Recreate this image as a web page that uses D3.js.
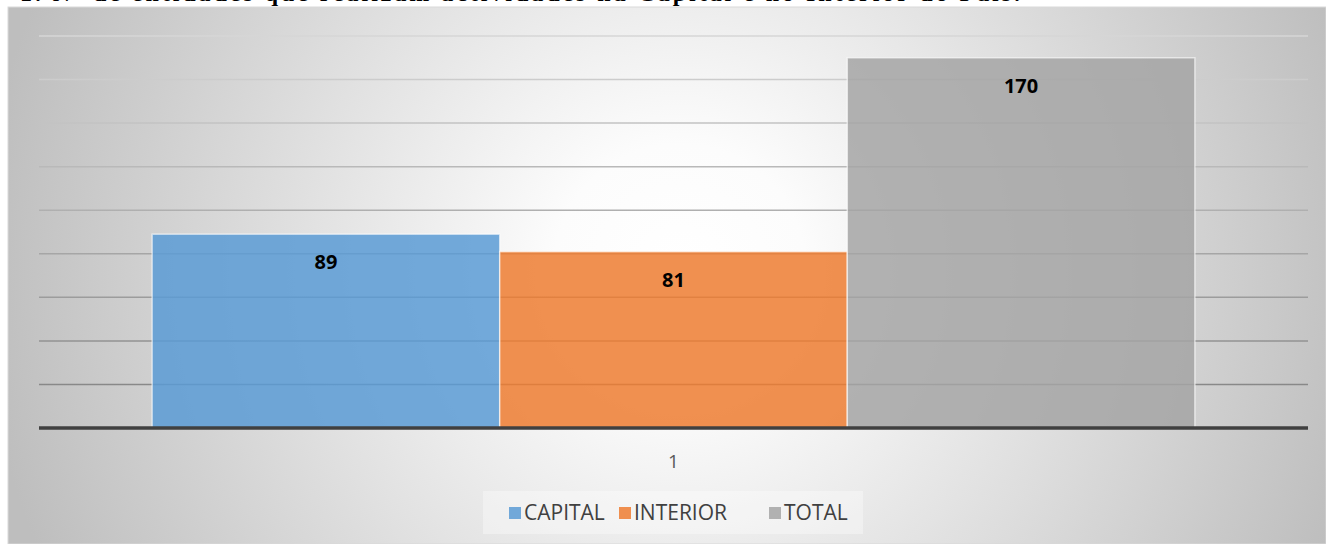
<!DOCTYPE html>
<html>
<head>
<meta charset="utf-8">
<script src="https://cdn.jsdelivr.net/npm/d3@7"></script>
<style>
	body { margin: 0; background: #ffffff; }
	svg { display: block; }
</style>
</head>
<body>
<div id="chart"></div>
<script>
// dados do gráfico
var categories = ["1"];
var series = ["CAPITAL", "INTERIOR", "TOTAL"];
var values = [89, 81, 170];
var yTicks = [0, 20, 40, 60, 80, 100, 120, 140, 160, 180];
var colors = ["#5B9BD5", "#ED7D31", "#A5A5A5"];
var titleText = "1.   Nº de entidades que realizam actividades na Capital e no Interior do País.";

drawchart()

function drawchart() {
	var W = 1326, H = 544;
	var box = { left: 8, top: 7, right: 1326, bottom: 544 };
	var plot = { left: 39, right: 1308, top: 36, bottom: 428 };

	var svg = d3.select("#chart")
		.append("svg")
		.attr("width", W)
		.attr("height", H);

	var defs = svg.append("defs");
	var bg = defs.append("radialGradient")
		.attr("id", "bggrad")
		.attr("gradientUnits", "userSpaceOnUse")
		.attr("cx", 680).attr("cy", 270).attr("r", 700);
	bg.append("stop").attr("offset", "0").attr("stop-color", "#ffffff");
	bg.append("stop").attr("offset", "0.18").attr("stop-color", "#fcfcfc");
	bg.append("stop").attr("offset", "1").attr("stop-color", "#bebebe");

	var gridgrad = defs.append("linearGradient")
		.attr("id", "gridgrad")
		.attr("gradientUnits", "userSpaceOnUse")
		.attr("x1", 0).attr("y1", plot.top).attr("x2", 0).attr("y2", plot.bottom);
	gridgrad.append("stop").attr("offset", "0").attr("stop-color", "#d6d6d6");
	gridgrad.append("stop").attr("offset", "1").attr("stop-color", "#7f7f7f");

	// título (cortado no topo, como na imagem)
	svg.append("text")
		.attr("x", 20)
		.attr("y", 1)
		.attr("textLength", 1000)
		.attr("lengthAdjust", "spacing")
		.style("font-family", "'Liberation Serif', 'Times New Roman', serif")
		.style("font-weight", "bold")
		.style("font-size", "24px")
		.style("fill", "#000")
		.text(titleText);

	// área do gráfico
	svg.append("rect")
		.attr("x", box.left)
		.attr("y", box.top)
		.attr("width", box.right - box.left)
		.attr("height", box.bottom - box.top)
		.style("fill", "url(#bggrad)")
		.style("stroke", "#d9d9d9")
		.style("stroke-width", 1);

	var y = d3.scaleLinear()
		.domain([0, d3.max(yTicks)])
		.range([plot.bottom, plot.top]);

	var x0 = d3.scaleBand()
		.domain(categories)
		.range([plot.left, plot.right])
		.paddingInner(0)
		.paddingOuter(0.1085);

	var x1 = d3.scaleBand()
		.domain(series)
		.range([0, x0.bandwidth()])
		.padding(0);

	// linhas de grelha
	svg.append("g")
		.selectAll("line")
		.data(yTicks.filter(d => d > 0))
		.join("line")
		.attr("x1", plot.left)
		.attr("x2", plot.right)
		.attr("y1", d => y(d))
		.attr("y2", d => y(d))
		.style("stroke", "url(#gridgrad)")
		.style("stroke-width", 1.5);

	// barras
	var groups = svg.append("g")
		.selectAll("g")
		.data(categories)
		.join("g")
		.attr("transform", d => `translate(${x0(d)},0)`);

	groups.selectAll("rect")
		.data(series.map((s, i) => ({ s: s, v: values[i], c: colors[i] })))
		.join("rect")
		.attr("x", d => x1(d.s))
		.attr("y", d => y(d.v))
		.attr("width", x1.bandwidth())
		.attr("height", d => y(0) - y(d.v))
		.style("fill", d => d.c)
		.style("fill-opacity", 0.85)
		.style("stroke", "#ffffff")
		.style("stroke-opacity", 0.6)
		.style("stroke-width", 1.5);

	groups.selectAll(".lbl")
		.data(series.map((s, i) => ({ s: s, v: values[i] })))
		.join("text")
		.attr("class", "lbl")
		.attr("x", d => x1(d.s) + x1.bandwidth() / 2)
		.attr("y", d => y(d.v) + 28)
		.attr("dy", "0.35em")
		.style("text-anchor", "middle")
		.style("font-family", "'Open Sans', 'Noto Sans', sans-serif")
		.style("font-weight", "bold")
		.style("font-size", "20px")
		.style("fill", "#000")
		.text(d => d.v);

	// eixo horizontal
	svg.append("line")
		.attr("x1", plot.left)
		.attr("x2", plot.right)
		.attr("y1", y(0))
		.attr("y2", y(0))
		.style("stroke", "#404040")
		.style("stroke-width", 3.5);

	svg.append("g")
		.selectAll("text")
		.data(categories)
		.join("text")
		.attr("x", d => x0(d) + x0.bandwidth() / 2)
		.attr("y", 461)
		.attr("dy", "0.35em")
		.style("text-anchor", "middle")
		.style("font-family", "'Open Sans', 'Noto Sans', sans-serif")
		.style("font-size", "19px")
		.style("fill", "#595959")
		.text(d => d);

	// legenda
	svg.append("rect")
		.attr("x", 483)
		.attr("y", 491)
		.attr("width", 380)
		.attr("height", 43)
		.style("fill", "#ffffff")
		.style("fill-opacity", 0.35);

	var legX = [509, 619, 769];
	var leg = svg.append("g")
		.selectAll("g")
		.data(series)
		.join("g")
		.attr("transform", (d, i) => `translate(${legX[i]},513)`);

	leg.append("rect")
		.attr("x", 0)
		.attr("y", -6)
		.attr("width", 12)
		.attr("height", 12)
		.style("fill", (d, i) => colors[i])
		.style("fill-opacity", 0.85);

	leg.append("text")
		.attr("x", 15)
		.attr("y", 0)
		.attr("dy", "0.35em")
		.style("font-family", "'Open Sans', 'Noto Sans', sans-serif")
		.style("font-size", "21px")
		.style("fill", "#404040")
		.text(d => d);
}
</script>
</body>
</html>
